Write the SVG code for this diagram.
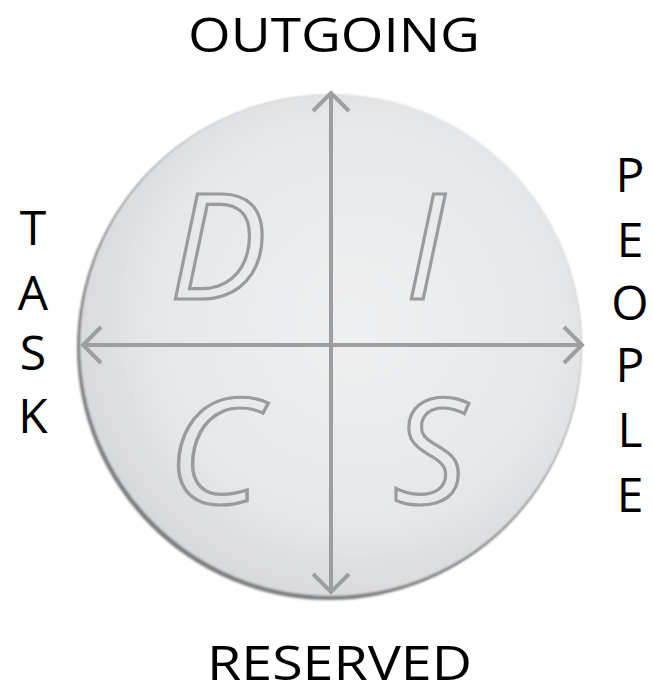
<svg xmlns="http://www.w3.org/2000/svg" width="653" height="683" viewBox="0 0 653 683">
<defs>
<radialGradient id="disc" cx="0.55" cy="0.45" r="0.62">
<stop offset="0" stop-color="#eff0f1"/>
<stop offset="0.65" stop-color="#e6e7e9"/>
<stop offset="1" stop-color="#d3d4d6"/>
</radialGradient>
<filter id="soft" x="-10%" y="-10%" width="120%" height="120%">
<feGaussianBlur stdDeviation="1"/>
</filter>
<marker id="chev" viewBox="-24 -24 48 48" markerWidth="48" markerHeight="48" refX="0" refY="0" orient="auto-start-reverse" markerUnits="userSpaceOnUse">
<polyline points="-18,-18 0,0 -18,18" fill="none" stroke="#9d9ea0" stroke-width="4"/>
</marker>
<style>
.lbl{font-family:"Open Sans","Liberation Sans",sans-serif;font-size:48px;fill:#000;}
.vl{font-family:"Open Sans","Liberation Sans",sans-serif;font-size:48px;fill:#000;text-anchor:middle;}
.big{font-family:"Open Sans","Liberation Sans",sans-serif;font-style:italic;font-size:146px;fill:none;stroke:#9a9b9d;stroke-width:3.2;text-anchor:middle;}
.ax{stroke:#9d9ea0;stroke-width:4;fill:none;}
</style>
</defs>
<rect width="653" height="683" fill="#fff"/>
<g id="disc-shape">
<circle cx="329" cy="348" r="252" fill="#7d7e80" filter="url(#soft)"/>
<circle cx="331" cy="345" r="251" fill="url(#disc)" filter="url(#soft)"/>
</g>
<g id="node-D"><text class="big" x="218" y="299">D</text></g>
<g id="node-I"><text class="big" x="425" y="299">I</text></g>
<g id="node-C"><text class="big" x="214" y="504" transform="translate(214 0) scale(1.1 1) translate(-214 0)">C</text></g>
<g id="node-S"><text class="big" x="430" y="504">S</text></g>
<g id="connectors">
<line class="ax" x1="331" y1="93" x2="331" y2="592" marker-start="url(#chev)" marker-end="url(#chev)"/>
<line class="ax" x1="83" y1="345" x2="582" y2="345" marker-start="url(#chev)" marker-end="url(#chev)"/>
</g>
<g id="label-outgoing"><text class="lbl" x="188" y="52" textLength="292" lengthAdjust="spacingAndGlyphs">OUTGOING</text></g>
<g id="label-reserved"><text class="lbl" x="207" y="680" textLength="265" lengthAdjust="spacingAndGlyphs">RESERVED</text></g>
<g id="label-people">
<text class="vl" x="630" y="192">P</text>
<text class="vl" x="630" y="257">E</text>
<text class="vl" x="630" y="320">O</text>
<text class="vl" x="630" y="382">P</text>
<text class="vl" x="630" y="447">L</text>
<text class="vl" x="630" y="512">E</text>
</g>
<g id="label-task">
<text class="vl" x="33" y="245">T</text>
<text class="vl" x="33" y="310">A</text>
<text class="vl" x="33" y="370">S</text>
<text class="vl" x="33" y="433">K</text>
</g>
</svg>
